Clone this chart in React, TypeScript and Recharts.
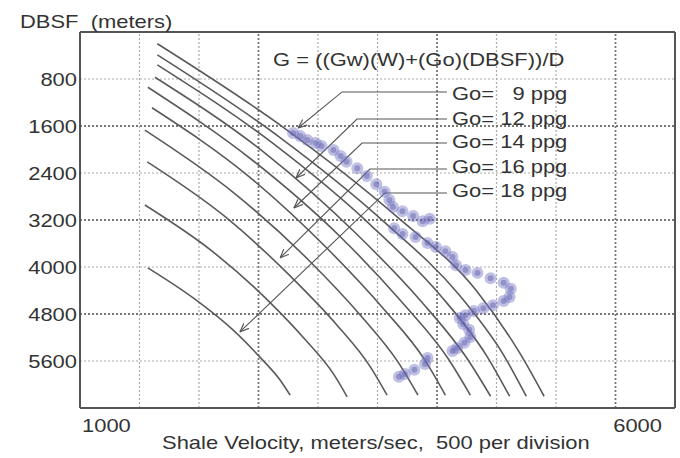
import { ComposedChart, Line, Scatter, XAxis, YAxis, ReferenceLine } from 'recharts'

// velocity (m/s), depth below sea floor (m)
const curve1 = [[1650, 200], [2720, 1640], [3660, 3140], [4330, 4400], [4700, 5480], [4900, 6200]]
const curve2 = [[1650, 390], [2670, 1780], [3560, 3240], [4180, 4460], [4560, 5500], [4750, 6200]]
const curve3 = [[1650, 560], [2630, 1910], [3460, 3320], [4040, 4510], [4420, 5520], [4610, 6200]]
const curve4 = [[1630, 770], [2560, 2070], [3320, 3430], [3860, 4570], [4250, 5550], [4450, 6200]]
const curve5 = [[1570, 940], [2460, 2200], [3200, 3510], [3710, 4610], [4090, 5550], [4280, 6180]]
const curve6 = [[1605, 1290], [2420, 2460], [3080, 3690], [3550, 4710], [3900, 5590], [4070, 6180]]
const curve7 = [[1545, 1670], [2300, 2750], [2920, 3880], [3360, 4830], [3680, 5640], [3840, 6180]]
const curve8 = [[1565, 2210], [2230, 3160], [2770, 4160], [3160, 4990], [3440, 5700], [3580, 6180]]
const curve9 = [[1545, 2945], [2110, 3730], [2570, 4550], [2890, 5230], [3130, 5820], [3245, 6210]]
const curve10 = [[1570, 4015], [1960, 4540], [2290, 5080], [2510, 5530], [2680, 5920], [2765, 6180]]

const shaleLog = [
  [2790, 1720], [2850, 1770], [2910, 1840], [2980, 1890], [3030, 1940], [3130, 2010], [3190, 2110],
  [3240, 2210], [3330, 2320], [3410, 2450], [3490, 2590], [3560, 2720], [3600, 2860], [3630, 2980],
  [3710, 3050], [3800, 3130], [3880, 3220], [3940, 3180], [3640, 3340], [3710, 3440], [3820, 3490],
  [3920, 3590], [3990, 3660], [4070, 3730], [4130, 3830], [4160, 3970], [4240, 4050], [4340, 4100],
  [4450, 4190], [4560, 4270], [4620, 4370], [4610, 4510], [4560, 4580], [4470, 4650], [4390, 4700],
  [4310, 4750], [4240, 4820], [4190, 4870], [4220, 4970], [4270, 5070], [4280, 5190], [4230, 5290],
  [4170, 5380], [4130, 5430], [3920, 5550], [3900, 5650], [3810, 5750], [3730, 5820], [3680, 5870],
]

// leader lines: label end -> bend -> arrow tip
const leader9 = [[4084, 1020], [3202, 1020], [2832, 1634]]
const leader12 = [[4084, 1481], [3328, 1481], [2815, 2485]]
const leader14 = [[4084, 1889], [3370, 1889], [2798, 2996]]
const leader16 = [[4084, 2332], [3437, 2332], [2681, 3847]]
const leader18 = [[4084, 2740], [3563, 2740], [2344, 5106]]

const goLabels = ['Go=   9 ppg', 'Go= 12 ppg', 'Go= 14 ppg', 'Go= 16 ppg', 'Go= 18 ppg']

const yTicks = [800, 1600, 2400, 3200, 4000, 4800, 5600]
const xTicks = [1000, 6000]
const xGrid = [1500, 2000, 2500, 3000, 3500, 4000, 4500, 5000, 5500]
const xGridDark = [2500, 4000, 5500]
const yGridDark = [1600, 3200, 4800]

const toPts = (a: number[][]) => a.map(([v, d]) => ({ v, d }))
const curves = [curve1, curve2, curve3, curve4, curve5, curve6, curve7, curve8, curve9, curve10].map(toPts)
const leaders = [leader9, leader12, leader14, leader16, leader18].map(toPts)
const logPts = toPts(shaleLog)

const FONT = '"Liberation Sans", Arial, sans-serif'

function T({ x, y, anchor = 'start', size = 18, children }: any) {
  return (
    <text
      transform={`translate(${x},${y}) scale(1.22,1)`}
      textAnchor={anchor}
      fontFamily={FONT}
      fontSize={size}
      fill="#333"
      style={{ whiteSpace: 'pre' }}
    >
      {children}
    </text>
  )
}

const YTick = ({ x, y, payload }: any) => <T x={x} y={y + 6.5} anchor="end">{payload.value}</T>

const XTick = ({ x, y, payload }: any) => {
  const first = payload.value === xTicks[0]
  return <T x={first ? x + 2 : x - 2} y={y + 24} anchor={first ? 'start' : 'end'}>{payload.value}</T>
}

const LogDot = ({ cx, cy }: any) => (
  <g>
    <circle cx={cx} cy={cy} r={6} fill="#7474c4" fillOpacity={0.45} />
    <circle cx={cx} cy={cy} r={3} fill="#5a5aa8" fillOpacity={0.45} />
  </g>
)

export default function App() {
  return (
    <div style={{ position: 'absolute', left: 0, top: 0, width: 680, height: 458, background: '#fff' }}>
      <svg width={0} height={0} style={{ position: 'absolute' }}>
        <defs>
          <marker id="arrowTip" viewBox="0 0 10 10" refX="10" refY="5" markerWidth="9" markerHeight="9"
            markerUnits="userSpaceOnUse" orient="auto">
            <path d="M0,1 L10,5 L0,9" fill="none" stroke="#555" strokeWidth={1.3} />
          </marker>
        </defs>
      </svg>
      <ComposedChart width={680} height={458} margin={{ top: 31, right: 0, bottom: 0, left: 0 }}>
        <XAxis
          type="number"
          dataKey="v"
          domain={[1000, 6000]}
          ticks={xTicks}
          tick={<XTick />}
          tickSize={0}
          tickMargin={0}
          tickLine={false}
          height={50}
          axisLine={{ stroke: '#555', strokeWidth: 2 }}
        />
        <XAxis
          xAxisId="top"
          orientation="top"
          type="number"
          domain={[1000, 6000]}
          tick={false}
          tickLine={false}
          height={1}
          axisLine={{ stroke: '#555', strokeWidth: 2 }}
        />
        <YAxis
          type="number"
          dataKey="d"
          domain={[0, 6400]}
          reversed
          ticks={yTicks}
          tick={<YTick />}
          tickSize={0}
          tickMargin={3}
          tickLine={false}
          width={80}
          axisLine={{ stroke: '#555', strokeWidth: 2 }}
        />
        <YAxis
          yAxisId="right"
          orientation="right"
          type="number"
          domain={[0, 6400]}
          tick={false}
          tickLine={false}
          width={5}
          axisLine={{ stroke: '#555', strokeWidth: 2 }}
        />

        {xGrid.map((v) => (
          <ReferenceLine key={'gx' + v} x={v}
            stroke={xGridDark.includes(v) ? '#777' : '#aaa'}
            strokeWidth={xGridDark.includes(v) ? 1.8 : 1.2}
            strokeDasharray="2 2" />
        ))}
        {yTicks.map((d) => (
          <ReferenceLine key={'gy' + d} y={d}
            stroke={yGridDark.includes(d) ? '#777' : '#aaa'}
            strokeWidth={yGridDark.includes(d) ? 1.8 : 1.2}
            strokeDasharray="2 2" />
        ))}

        {curves.map((c, i) => (
          <Line key={'c' + i} data={c} dataKey="d" type="monotone" stroke="#5a5a5a" strokeWidth={1.6}
            dot={false} activeDot={false} isAnimationActive={false} />
        ))}

        <Scatter data={logPts} dataKey="d" shape={<LogDot />} isAnimationActive={false} />

        {leaders.map((c, i) => (
          <Line key={'l' + i} data={c} dataKey="d" type="linear" stroke="#555" strokeWidth={1.1}
            dot={false} activeDot={false} markerEnd="url(#arrowTip)" isAnimationActive={false} />
        ))}
      </ComposedChart>

      <svg width={680} height={458} style={{ position: 'absolute', left: 0, top: 0, pointerEvents: 'none' }}>
        <T x={20} y={28}>{'DBSF  (meters)'}</T>
        <T x={273} y={66}>{'G = ((Gw)(W)+(Go)(DBSF))/D'}</T>
        {goLabels.map((s, i) => (
          <T key={s} x={452} y={[100, 125, 148, 173, 197][i]}>{s}</T>
        ))}
        <T x={162} y={449}>{'Shale Velocity, meters/sec,  500 per division'}</T>
      </svg>
    </div>
  )
}
